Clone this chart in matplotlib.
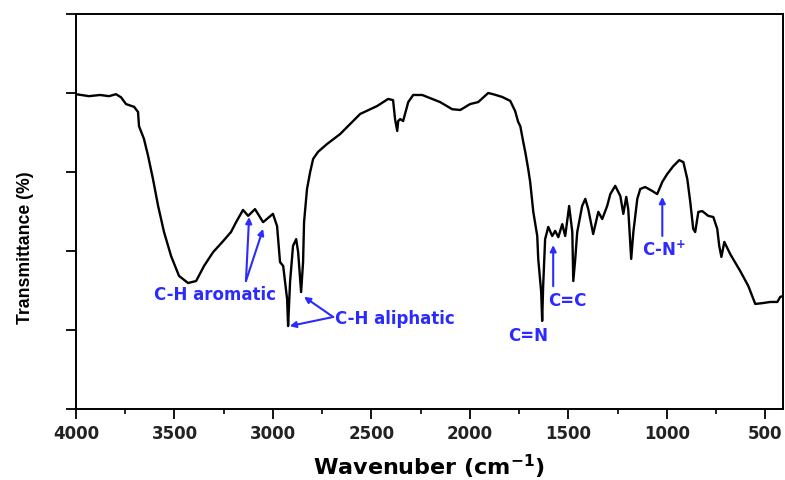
import matplotlib.pyplot as plt
import numpy as np

# FTIR spectrum
wavenumber = [4000, 3934, 3878, 3832, 3797, 3771, 3746, 3705, 3685, 3680,
              3655, 3634, 3609, 3583, 3553, 3517, 3477, 3431, 3390, 3350,
              3304, 3253, 3213, 3187, 3152, 3126, 3091, 3050, 3000, 2979,
              2964, 2948, 2928, 2923, 2913, 2898, 2882, 2872, 2857, 2847,
              2842, 2827, 2811, 2796, 2771, 2725, 2659, 2593, 2557, 2471,
              2415, 2390, 2380, 2369, 2364, 2354, 2339, 2313, 2288, 2242,
              2202, 2151, 2090, 2049, 1999, 1958, 1907, 1882, 1836, 1795,
              1770, 1755, 1744, 1729, 1719, 1704, 1694, 1678, 1658, 1653,
              1638, 1633, 1628, 1618, 1602, 1582, 1567, 1551, 1531, 1516,
              1496, 1480, 1475, 1465, 1455, 1430, 1414, 1399, 1374, 1348,
              1328, 1303, 1287, 1262, 1236, 1221, 1206, 1196, 1181, 1170,
              1150, 1135, 1110, 1074, 1049, 1023, 998, 967, 937, 916,
              896, 881, 866, 856, 840, 820, 790, 764, 744, 734,
              723, 708, 678, 627, 586, 551, 515, 475, 439, 424, 409]
transmittance = [79.7, 79.2, 79.5, 79.2, 79.7, 78.9, 77.2, 76.5, 75.2, 71.6,
                 68.4, 64.1, 58.2, 51.4, 44.8, 38.7, 33.7, 31.9, 32.4, 36.2,
                 39.7, 42.5, 44.8, 47.3, 50.4, 48.9, 50.6, 47.3, 49.4, 46.3,
                 37.2, 36.2, 27.8, 21.0, 32.2, 41.3, 43.0, 39.7, 29.6, 37.2,
                 47.3, 55.7, 60.0, 63.3, 65.1, 67.1, 69.6, 72.9, 74.7, 76.7,
                 78.5, 78.2, 73.4, 70.4, 72.9, 73.4, 72.9, 77.7, 79.5, 79.5,
                 78.7, 77.7, 75.9, 75.7, 77.2, 77.7, 80.0, 79.7, 79.0, 78.0,
                 75.4, 72.7, 71.6, 67.6, 65.1, 60.8, 57.5, 49.9, 43.8, 38.0,
                 29.6, 22.3, 31.1, 43.0, 46.1, 43.8, 45.1, 43.5, 46.8, 43.8,
                 51.4, 44.8, 32.4, 38.0, 44.8, 51.4, 53.2, 50.6, 44.3, 49.9,
                 48.1, 51.4, 54.4, 56.5, 53.9, 49.4, 53.7, 50.6, 38.0, 44.8,
                 53.2, 55.7, 56.2, 55.2, 54.4, 57.5, 59.5, 61.5, 63.0, 62.5,
                 58.2, 52.4, 45.6, 44.8, 49.9, 50.1, 48.9, 48.6, 45.6, 41.3,
                 38.5, 42.3, 39.2, 34.9, 31.1, 26.6, 26.8, 27.1, 27.1, 28.4, 28.6]

x_ticks = [4000, 3500, 3000, 2500, 2000, 1500, 1000, 500]
y_ticks = [0, 20, 40, 60, 80, 100]

blue = '#2b2bff'

fig = plt.figure(figsize=(7.85, 4.81), dpi=100)
ax = fig.add_axes([0.0968, 0.1476, 0.9007, 0.8212])

ax.plot(wavenumber, transmittance, color='black', lw=1.7)
ax.set_xlim(4000, 410)
ax.set_ylim(0, 100)

ax.set_xticks(x_ticks)
ax.set_xticks(np.arange(3750, 400, -500), minor=True)
ax.set_xticklabels([str(t) for t in x_ticks], fontweight='bold', fontsize=12,
                   color='#222222', family='DejaVu Sans')
ax.set_yticks(y_ticks)
ax.set_yticklabels([])
ax.tick_params(axis='both', which='major', direction='out', length=7, width=1.3)
ax.tick_params(axis='x', which='minor', direction='out', length=3.5, width=1.2)
ax.tick_params(axis='x', pad=4)
for s in ax.spines.values():
    s.set_linewidth(1.4)

ax.set_xlabel('Wavenuber (cm$^{\\mathbf{-1}}$)', fontsize=16, fontweight='bold',
              family='DejaVu Sans', labelpad=7)
ax.set_ylabel('Transmittance (%)', fontsize=12.7, fontweight='bold',
              family=['Liberation Sans', 'DejaVu Sans'])
ax.yaxis.set_label_coords(-0.060, 0.41)

arr = dict(arrowstyle='-|>', color=blue, lw=1.5, mutation_scale=9,
           shrinkA=0, shrinkB=0)
tfont = dict(color=blue, fontsize=12, family='DejaVu Sans', fontweight='bold')

# C-H aromatic
ax.text(3294, 29.1, 'C-H aromatic', ha='center', va='center', **tfont)
ax.annotate('', xy=(3121, 48.6), xytext=(3137, 32.4), arrowprops=arr)
ax.annotate('', xy=(3050, 45.6), xytext=(3137, 32.4), arrowprops=arr)

# C-H aliphatic
ax.text(2684, 23.0, 'C-H aliphatic', ha='left', va='center', **tfont)
ax.annotate('', xy=(2915, 21.0), xytext=(2694, 23.3), arrowprops=arr)
ax.annotate('', xy=(2842, 28.4), xytext=(2694, 23.3), arrowprops=arr)

# C=N
ax.text(1704, 18.7, 'C=N', ha='center', va='center', **tfont)

# C=C
ax.text(1506, 27.6, 'C=C', ha='center', va='center', **tfont)
ax.annotate('', xy=(1577, 41.5), xytext=(1577, 31.1), arrowprops=arr)

# C-N+
ax.text(1125, 40.5, 'C-N$^{\\mathbf{+}}$', ha='left', va='center', **tfont)
ax.annotate('', xy=(1023, 53.7), xytext=(1023, 43.8), arrowprops=arr)

fig.savefig('out.png', dpi=100)
